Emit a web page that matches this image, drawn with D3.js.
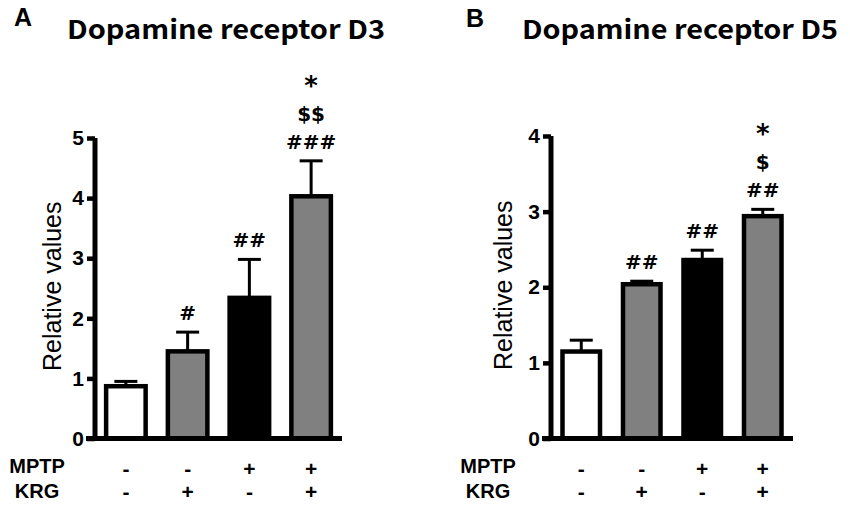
<!DOCTYPE html>
<html><head><meta charset="utf-8">
<script src="https://cdn.jsdelivr.net/npm/d3@7"></script>
<style>body{margin:0;background:#fff}</style>
</head><body>
<svg id="c" width="850" height="508"></svg>
<script>
const groups = ["Control", "KRG", "MPTP", "MPTP+KRG"];
const mptpSigns = ["-", "-", "+", "+"];
const krgSigns = ["-", "+", "-", "+"];
const fills = ["#ffffff", "#808080", "#000000", "#808080"];

const d3Values = [0.87, 1.45, 2.34, 4.03];
const d3Errors = [0.08, 0.32, 0.64, 0.59];
const d3Marks = [[], ["#"], ["##"], ["###", "$$", "*"]];
const d3Ticks = [0, 1, 2, 3, 4, 5];

const d5Values = [1.15, 2.04, 2.36, 2.94];
const d5Errors = [0.15, 0.04, 0.13, 0.09];
const d5Marks = [[], ["##"], ["##"], ["##", "$", "*"]];
const d5Ticks = [0, 1, 2, 3, 4];

const svg = d3.select("#c");
const markOffsets = [-12, -40, -66];

function panel(o) {
  const g = svg.append("g");
  const x = d3.scaleBand().domain(groups).range([o.x0, o.x1]).paddingInner(o.pi).paddingOuter(o.pi / 2);
  const y = d3.scaleLinear().domain([0, o.ymax]).range([o.yb, o.yt]);

  // panel letter and title
  g.append("text").attr("x", o.lx).attr("y", o.ly).text(o.letter)
    .attr("font-family", "Liberation Sans, Arial").attr("font-weight", 700).attr("font-size", 25);
  g.append("text").attr("x", o.tx).attr("y", 39).text(o.title)
    .attr("font-family", "Noto Sans CJK KR").attr("font-weight", 700).attr("font-size", 26)
    .attr("textLength", o.tw).attr("lengthAdjust", "spacingAndGlyphs");

  // bars
  g.selectAll("rect.bar").data(groups).enter().append("rect")
    .attr("x", d => x(d)).attr("width", x.bandwidth())
    .attr("y", (d, i) => y(o.values[i])).attr("height", (d, i) => y(0) - y(o.values[i]))
    .attr("fill", (d, i) => fills[i]).attr("stroke", "#000").attr("stroke-width", 4.5);

  groups.forEach((d, i) => {
    const cx = x(d) + x.bandwidth() / 2;
    const top = y(o.values[i] + o.errors[i]);
    // error bar (upper)
    g.append("line").attr("x1", cx).attr("x2", cx).attr("y1", y(o.values[i])).attr("y2", top)
      .attr("stroke", "#000").attr("stroke-width", 3);
    g.append("line").attr("x1", cx - 11.5).attr("x2", cx + 11.5).attr("y1", top).attr("y2", top)
      .attr("stroke", "#000").attr("stroke-width", 3);
    // significance marks
    o.marks[i].forEach((m, k) => {
      g.append("text").attr("x", cx).attr("y", top + markOffsets[k])
        .attr("text-anchor", "middle").text(m)
        .attr("font-family", "DejaVu Sans").attr("font-weight", 700)
        .attr("font-size", m === "*" ? 26 : 20);
    });
    // +/- rows
    g.append("text").attr("x", cx).attr("y", 475.5).attr("text-anchor", "middle").text(mptpSigns[i])
      .attr("font-family", "Liberation Sans, Arial").attr("font-weight", 700).attr("font-size", 21);
    g.append("text").attr("x", cx).attr("y", 499).attr("text-anchor", "middle").text(krgSigns[i])
      .attr("font-family", "Liberation Sans, Arial").attr("font-weight", 700).attr("font-size", 21);
  });

  // y axis
  const ya = d3.axisLeft(y).tickValues(o.ticks).tickSize(8).tickPadding(3).tickFormat(d3.format("d"));
  const yg = g.append("g").attr("transform", `translate(${o.x0},0)`).call(ya);
  yg.select(".domain").attr("stroke-width", 5).attr("d", `M0,${o.yt}V${o.yb}`);
  yg.selectAll(".tick line").attr("stroke-width", 4.5);
  yg.selectAll(".tick text").attr("font-family", "Liberation Sans, Arial").attr("font-weight", 700)
    .attr("font-size", 21).attr("fill", "#000");

  // x axis baseline
  g.append("line").attr("x1", o.x0 - 9).attr("x2", o.x1).attr("y1", o.yb).attr("y2", o.yb)
    .attr("stroke", "#000").attr("stroke-width", 5);

  // y label
  g.append("text").attr("transform", `translate(${o.ylx},${(o.yt + o.yb) / 2 - 2}) rotate(-90)`)
    .attr("text-anchor", "middle").text("Relative values")
    .attr("font-family", "Liberation Sans, Arial").attr("font-size", 25);

  // row labels
  g.append("text").attr("x", o.rlx).attr("y", 473).attr("text-anchor", "middle").text("MPTP")
    .attr("font-family", "Liberation Sans, Arial").attr("font-weight", 700).attr("font-size", 20);
  g.append("text").attr("x", o.rlx).attr("y", 498).attr("text-anchor", "middle").text("KRG")
    .attr("font-family", "Liberation Sans, Arial").attr("font-weight", 700).attr("font-size", 20);
}

panel({letter: "A", lx: 14, ly: 26, title: "Dopamine receptor D3", tx: 67, tw: 318,
  x0: 95, x1: 342, pi: 0.36, yb: 438.5, yt: 138, ymax: 5, ticks: d3Ticks,
  values: d3Values, errors: d3Errors, marks: d3Marks, ylx: 61, rlx: 37});
panel({letter: "B", lx: 466, ly: 27, title: "Dopamine receptor D5", tx: 522, tw: 316,
  x0: 551, x1: 793, pi: 0.38, yb: 438.5, yt: 136, ymax: 4, ticks: d5Ticks,
  values: d5Values, errors: d5Errors, marks: d5Marks, ylx: 512, rlx: 488});
</script>
</body></html>
